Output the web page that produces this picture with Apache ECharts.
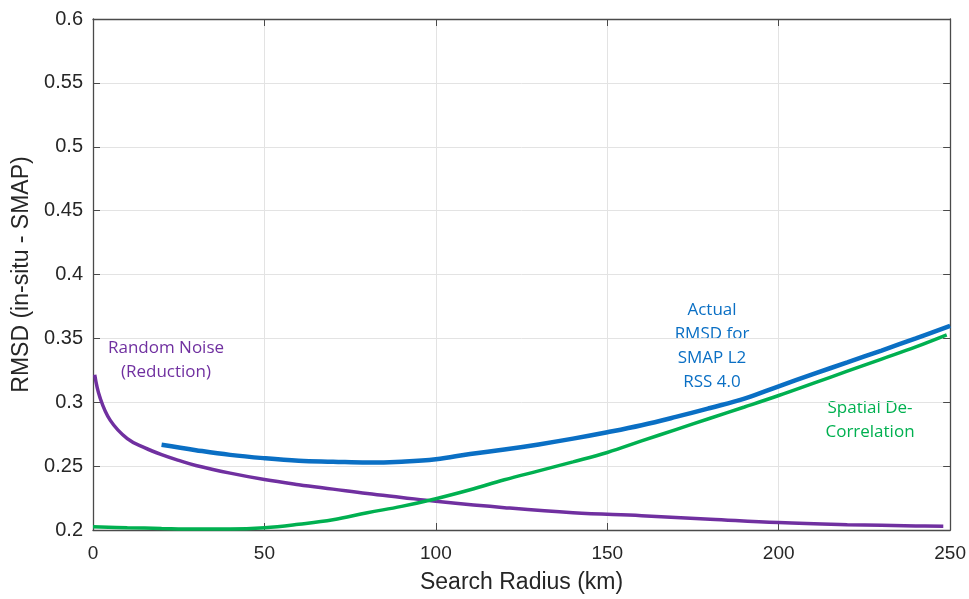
<!DOCTYPE html>
<html>
<head>
<meta charset="utf-8">
<script src="https://cdn.jsdelivr.net/npm/echarts@6/dist/echarts.min.js"></script>
<style>
  html, body { margin: 0; padding: 0; background: #fff; }
  #chart { width: 969px; height: 599px; }
</style>
</head>
<body>
<div id="chart"></div>
<script>
// values
const xNoise = [0.5, 2, 5, 10, 15, 20, 25, 30, 40, 50, 60, 70, 80, 90, 100, 120, 140, 160, 180, 200, 220, 240, 248]
const yNoise = [0.3215, 0.304, 0.286, 0.2715, 0.2645, 0.259, 0.2545, 0.2505, 0.2445, 0.2395, 0.2355, 0.232, 0.2285, 0.2255, 0.2225, 0.2175, 0.2135, 0.2112, 0.2085, 0.2058, 0.2042, 0.2032, 0.203]

const xActual = [20, 30, 40, 50, 60, 70, 80, 90, 100, 110, 120, 130, 140, 150, 160, 170, 180, 190, 200, 210, 220, 230, 240, 250]
const yActual = [0.2667, 0.2625, 0.2588, 0.2562, 0.2543, 0.2535, 0.2528, 0.2535, 0.2554, 0.2595, 0.263, 0.267, 0.2715, 0.2765, 0.282, 0.2885, 0.2955, 0.3028, 0.3125, 0.322, 0.3312, 0.3405, 0.35, 0.3597]

const xSpatial = [0, 10, 20, 30, 40, 50, 60, 70, 80, 90, 100, 110, 120, 130, 140, 150, 160, 170, 180, 190, 200, 210, 220, 230, 240, 249]
const ySpatial = [0.2025, 0.2018, 0.2012, 0.2008, 0.2008, 0.2018, 0.2045, 0.208, 0.2135, 0.2185, 0.2245, 0.2315, 0.2393, 0.2463, 0.2533, 0.2607, 0.2697, 0.2786, 0.2875, 0.2963, 0.3053, 0.3148, 0.3243, 0.3338, 0.3433, 0.3527]

const xTicks = [0, 50, 100, 150, 200, 250]
const yTicks = [0.2, 0.25, 0.3, 0.35, 0.4, 0.45, 0.5, 0.55, 0.6]

const pairs = (xs, ys) => xs.map((x, i) => [x, ys[i]])

const AXIS_COLOR = '#4a4a4a'
const TEXT_COLOR = '#262626'
const FONT = 'Liberation Sans, Arial, sans-serif'
const LABEL_FONT = 'Open Sans, Lato, sans-serif'

let myChart = echarts.init(document.getElementById('chart'))

const axisBase = {
  type: 'value',
  axisLine: { show: true, onZero: false, lineStyle: { color: AXIS_COLOR, width: 1.3 } },
  axisTick: { show: true, inside: true, length: 7, lineStyle: { color: AXIS_COLOR } },
  splitLine: { show: false }
}

myChart.setOption({
  animation: false,
  grid: { left: 93, right: 18, top: 19, bottom: 65, containLabel: false },
  xAxis: [
    Object.assign({}, axisBase, {
      min: 0, max: 250, interval: 50,
      position: 'bottom',
      name: 'Search Radius (km)',
      nameLocation: 'middle',
      nameGap: 41,
      nameTextStyle: { color: TEXT_COLOR, fontSize: 23, fontFamily: FONT },
      axisLabel: { color: TEXT_COLOR, fontSize: 19, fontFamily: FONT, margin: 14,
        formatter: v => xTicks.includes(v) ? String(v) : '' },
      splitLine: { show: true, lineStyle: { color: '#e3e3e3', width: 1 } }
    }),
    Object.assign({}, axisBase, {
      min: 0, max: 250, interval: 50, position: 'top',
      axisLabel: { show: false }
    })
  ],
  yAxis: [
    Object.assign({}, axisBase, {
      min: 0.2, max: 0.6, interval: 0.05,
      position: 'left',
      name: 'RMSD (in-situ - SMAP)',
      nameLocation: 'middle',
      nameGap: 53,
      nameTextStyle: { color: TEXT_COLOR, fontSize: 23, fontFamily: FONT },
      axisLabel: { color: TEXT_COLOR, fontSize: 20, fontFamily: FONT, margin: 10,
        formatter: v => {
          const t = yTicks.find(k => Math.abs(k - v) < 1e-6)
          return t === undefined ? '' : String(t)
        } },
      splitLine: { show: true, lineStyle: { color: '#e3e3e3', width: 1 } }
    }),
    Object.assign({}, axisBase, {
      min: 0.2, max: 0.6, interval: 0.05, position: 'right',
      axisLabel: { show: false }
    })
  ],
  series: [
    {
      name: 'Random Noise (Reduction)',
      type: 'line',
      smooth: 0.4,
      showSymbol: false,
      lineStyle: { color: '#7030a0', width: 3.5 },
      data: pairs(xNoise, yNoise)
    },
    {
      name: 'Spatial De-Correlation',
      type: 'line',
      smooth: 0.4,
      showSymbol: false,
      lineStyle: { color: '#00b050', width: 3.5 },
      data: pairs(xSpatial, ySpatial)
    },
    {
      name: 'Actual RMSD for SMAP L2 RSS 4.0',
      type: 'line',
      smooth: 0.4,
      showSymbol: false,
      lineStyle: { color: '#0a6fc4', width: 4.5 },
      data: pairs(xActual, yActual)
    }
  ],
  graphic: [
    {
      type: 'text', x: 166, y: 360,
      style: { text: 'Random Noise\n(Reduction)', fill: '#7030a0', font: '17px ' + LABEL_FONT,
        align: 'center', verticalAlign: 'middle', lineHeight: 24 }
    },
    {
      type: 'text', x: 712, y: 346,
      style: { text: 'Actual\nRMSD for\nSMAP L2\nRSS 4.0', fill: '#0a6fc4', font: '17px ' + LABEL_FONT,
        align: 'center', verticalAlign: 'middle', lineHeight: 24 }
    },
    {
      type: 'text', x: 870, y: 420,
      style: { text: 'Spatial De-\nCorrelation', fill: '#00b050', font: '17px ' + LABEL_FONT,
        align: 'center', verticalAlign: 'middle', lineHeight: 24 }
    }
  ]
})
</script>
</body>
</html>
